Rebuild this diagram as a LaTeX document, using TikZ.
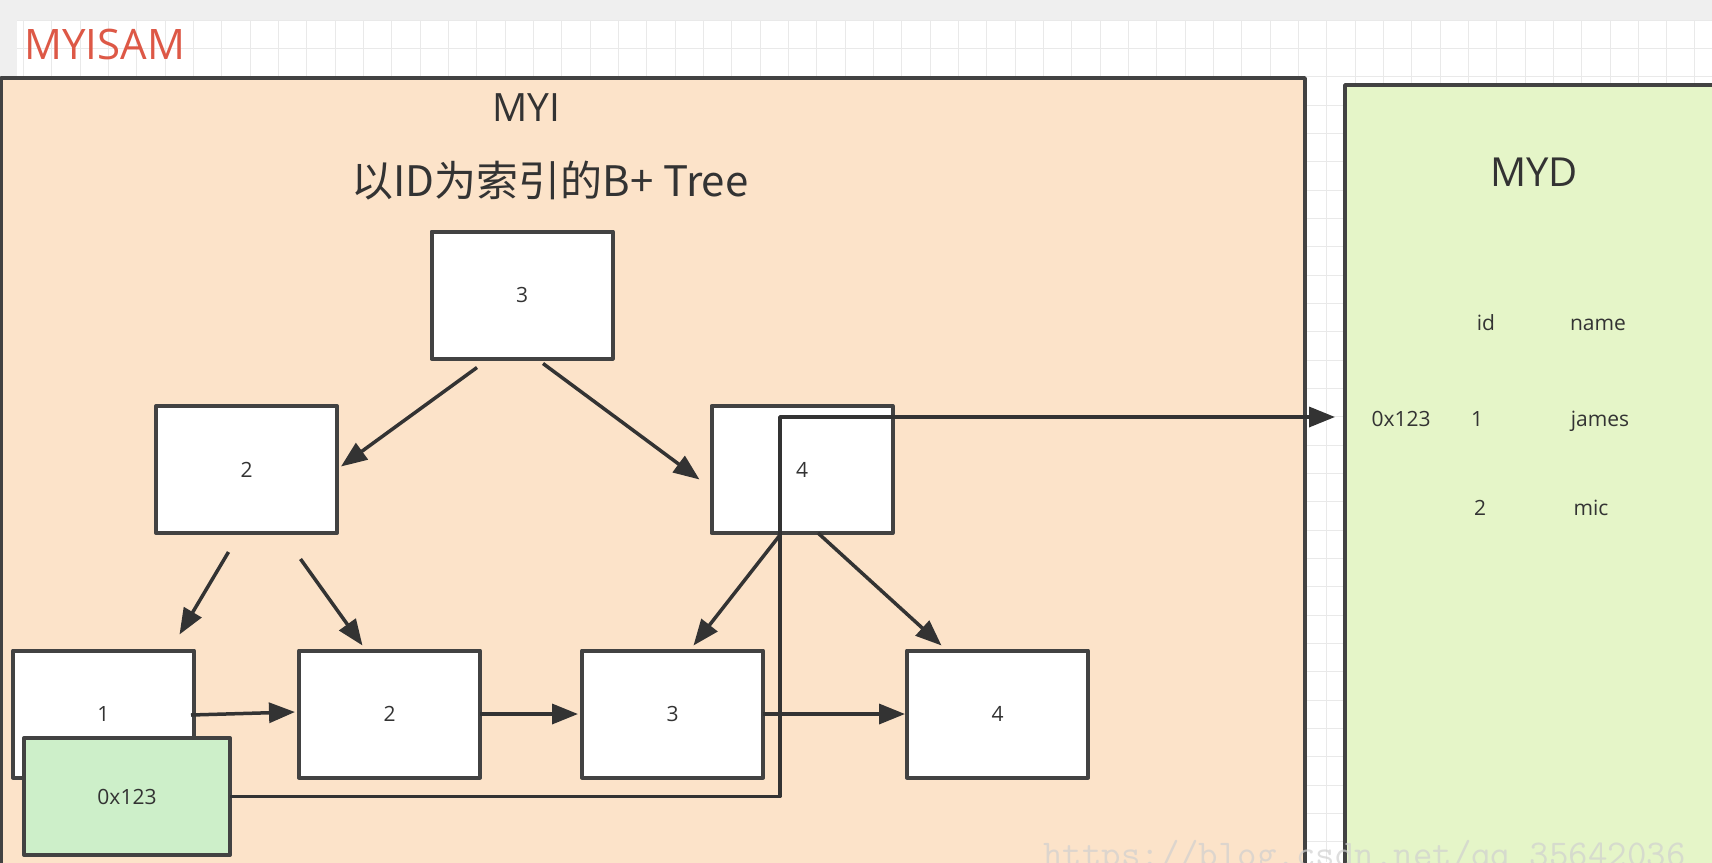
\documentclass[tikz,border=0pt]{standalone}
\usepackage{fontspec}
\setmainfont{Open Sans}
\newfontfamily\cjk{Noto Sans CJK SC}
\usetikzlibrary{arrows.meta}
\definecolor{bandgray}{HTML}{EFEFEF}
\definecolor{gridc}{HTML}{E9E9E9}
\definecolor{peach}{HTML}{FCE3C9}
\definecolor{mydgreen}{HTML}{E5F5C8}
\definecolor{ptrgreen}{HTML}{CDEFC9}
\definecolor{titlered}{HTML}{DD5846}
\definecolor{edge}{HTML}{424242}
\definecolor{ink}{HTML}{333333}
\definecolor{wmgray}{HTML}{D0D0D0}
\tikzset{
  gridline/.style={draw=gridc, line width=0.8pt},
  panel/.style={draw=edge, line width=3.6pt, line join=round},
  treebox/.style={draw=edge, fill=white, line width=4pt, line join=round,
    minimum width=181pt, minimum height=127pt, inner sep=0pt, outer sep=0pt,
    text=ink, font=\fontsize{21}{25}\selectfont},
  ptrbox/.style={treebox, fill=ptrgreen, minimum width=206pt, minimum height=117pt},
  conn/.style={draw=ink, line width=3.5pt, line join=round,
    -{Triangle[length=26pt,width=20pt]}},
  lbl/.style={text=ink, inner sep=0pt},
  cell/.style={lbl, anchor=base, font=\fontsize{21}{25}\selectfont},
}
\begin{document}
\begin{tikzpicture}[x=1pt,y=-1pt]
\useasboundingbox (0,0) rectangle (1712,862);
\clip (0,0) rectangle (1712,862);
% background
\fill[bandgray] (0,0) rectangle (1712,862);
\fill[white] (17,20) rectangle (1712,862);
\foreach \i in {0,...,60} { \draw[gridline] (23.4+28.33*\i,20) -- ++(0,842); }
\foreach \j in {0,...,30} { \draw[gridline] (17,20+28.33*\j) -- ++(1695,0); }
% title
\node[anchor=west, text=titlered, inner sep=0pt, font=\fontsize{42}{48}\selectfont] (myisam) at (24,44) {MYISAM};
% panels
\draw[panel, fill=peach] (1,78) rectangle (1305,900);
\draw[panel, fill=mydgreen] (1345,85) rectangle (1760,900);
\node[lbl, font=\fontsize{39}{44}\selectfont] (myi) at (526,108) {MYI};
\node[lbl, font=\cjk\fontsize{42}{48}\selectfont] (tree) at (550,181) {以ID为索引的B+ Tree};
\node[lbl, font=\fontsize{40}{46}\selectfont] (myd) at (1534,172) {MYD};
% table
\node[cell] (hid) at (1486,330) {id};
\node[cell] (hname) at (1598,330) {name};
\node[cell] (addr) at (1401,426) {0x123};
\node[cell] (id1) at (1477,426) {1};
\node[cell] (nm1) at (1600,426) {james};
\node[cell] (id2) at (1480,515) {2};
\node[cell] (nm2) at (1591,515) {mic};
% tree nodes
\node[treebox] (root) at (522,295) {3};
\node[treebox] (n2) at (246.5,469.5) {2};
\node[treebox] (n4) at (802,469.5) {4};
\node[treebox] (l1) at (103.5,714) {1};
\node[treebox] (l2) at (389.5,714) {2};
\node[treebox] (l3) at (672.5,714) {3};
\node[treebox] (l4) at (997.5,714) {4};
% tree connectors
\draw[conn] ([xshift=-45pt,yshift=-9pt]root.south) -- ([xshift=4pt,yshift=3pt]n2.east);
\draw[conn] ([xshift=21pt,yshift=-5pt]root.south) -- ([xshift=-12pt,yshift=-10pt]n4.west);
\draw[conn] ([xshift=-18pt,yshift=-19pt]n2.south) -- ([xshift=76pt,yshift=16pt]l1.north);
\draw[conn] ([xshift=54pt,yshift=-26pt]n2.south) -- ([xshift=-27pt,yshift=5pt]l2.north);
\draw[conn] ([xshift=-22pt,yshift=-2pt]n4.south) -- ([xshift=21pt,yshift=5pt]l3.north);
\draw[conn] ([xshift=16pt]n4.south) -- ([xshift=-56pt,yshift=5pt]l4.north);
\draw[conn] ([xshift=-3pt,yshift=-1pt]l1.east) -- ([xshift=-4pt,yshift=2pt]l2.west);
\draw[conn] (l2.east) -- ([xshift=-4pt]l3.west);
\draw[conn] (l3.east) -- ([xshift=-2pt]l4.west);
% pointer
\node[ptrbox] (ptr) at (127,796.5) {0x123};
\coordinate (bend) at (780,417);
\coordinate (tgt) at (1335,417);
\draw[conn] (ptr.east) -| (bend) -- (tgt);
% watermark
\node[anchor=base west, inner sep=0pt, text=wmgray, opacity=0.7,
  font=\ttfamily\fontsize{37.8}{40}\selectfont] (wm) at (1043,866) {https://blog.csdn.net/qq\_35642036};
\end{tikzpicture}
\end{document}
